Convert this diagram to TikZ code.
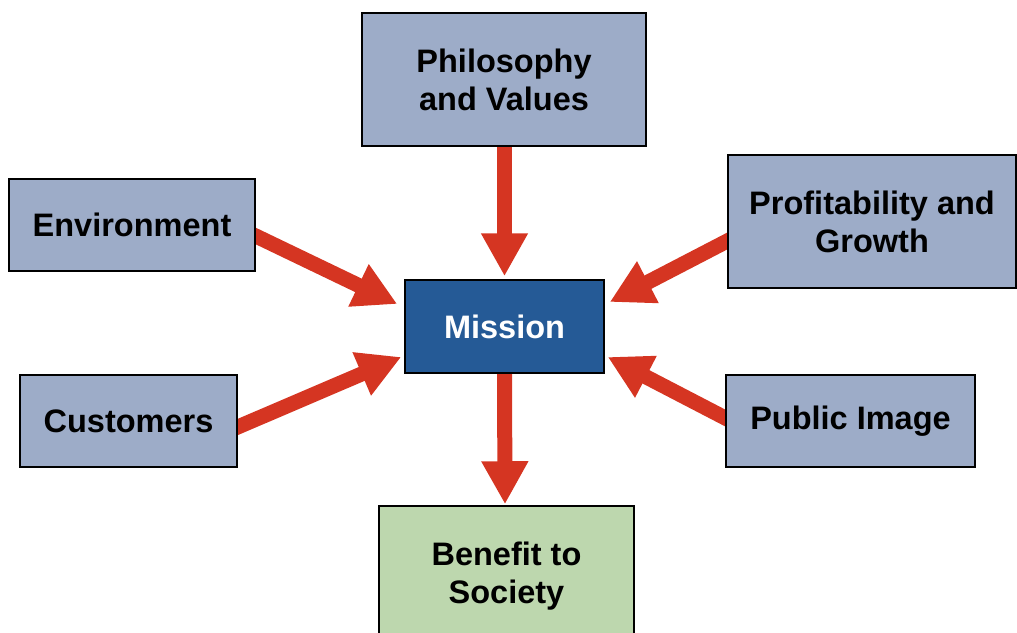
\documentclass[tikz,border=0pt]{standalone}
\usepackage{fontspec}
\setmainfont{Liberation Sans}
\usetikzlibrary{arrows.meta,calc,backgrounds}
\definecolor{boxblue}{HTML}{9DACC8}
\definecolor{misblue}{HTML}{255A96}
\definecolor{bengreen}{HTML}{BDD7AE}
\definecolor{arrred}{HTML}{D53522}
\begin{document}
\begin{tikzpicture}[x=1pt,y=-1pt,
  box/.style={draw=black, line width=1.5pt, fill=boxblue, align=center,
    inner sep=0pt, font=\fontsize{32.5}{38}\selectfont\bfseries},
  arr/.style={draw=arrred, line width=15pt,
    -{Triangle[length=43pt,width=44pt]}}]
\useasboundingbox (0,0) rectangle (1017,632);
\clip (0,0) rectangle (1017,632);
\node[box, minimum width=284pt, minimum height=133pt] (phi) at (504,79.5) {Philosophy\\and Values};
\node[box, minimum width=246pt, minimum height=92pt] (env) at (132,225) {Environment};
\node[box, minimum width=288pt, minimum height=133pt] (pro) at (872,221.5) {Profitability and\\Growth};
\node[box, fill=misblue, text=white, minimum width=199pt, minimum height=93pt] (mis) at (504.5,326.5) {Mission};
\node[box, minimum width=217pt, minimum height=92pt] (cus) at (128.5,421) {Customers};
\node[box, minimum width=249pt, minimum height=92pt] (pub) at (850.5,421) {Public Image};
\node[box, fill=bengreen, minimum width=255pt, minimum height=139pt, text depth=6pt] (ben) at (506.5,575.5) {Benefit to\\Society};
\coordinate (sE) at ($(env.east)+(0,11)$);
\coordinate (tE) at ($(mis.west)+(-7,-22.5)$);
\coordinate (sC) at ($(cus.east)+(0,6)$);
\coordinate (tC) at ($(mis.west)+(-3,30.5)$);
\coordinate (sP) at ($(pro.west)+(0,19.5)$);
\coordinate (tP) at ($(mis.east)+(5,-24.5)$);
\coordinate (sI) at ($(pub.west)+(0,-3)$);
\coordinate (tI) at ($(mis.east)+(3,30.5)$);
\begin{scope}[on background layer]
\draw[arr, shorten >=3pt] ($(phi.south)+(0.5,0)$) -- ($(mis.north)+(0,0)$);
\draw[arr, shorten >=1pt] ($(mis.south)+(0,0)$) -- ($(ben.north)+(-1.5,0)$);
\draw[arr] ($(sE)!-8pt!(tE)$) -- (tE);
\draw[arr] ($(sC)!-8pt!(tC)$) -- (tC);
\draw[arr] ($(sP)!-8pt!(tP)$) -- (tP);
\draw[arr] ($(sI)!-8pt!(tI)$) -- (tI);
\end{scope}
\end{tikzpicture}
\end{document}
